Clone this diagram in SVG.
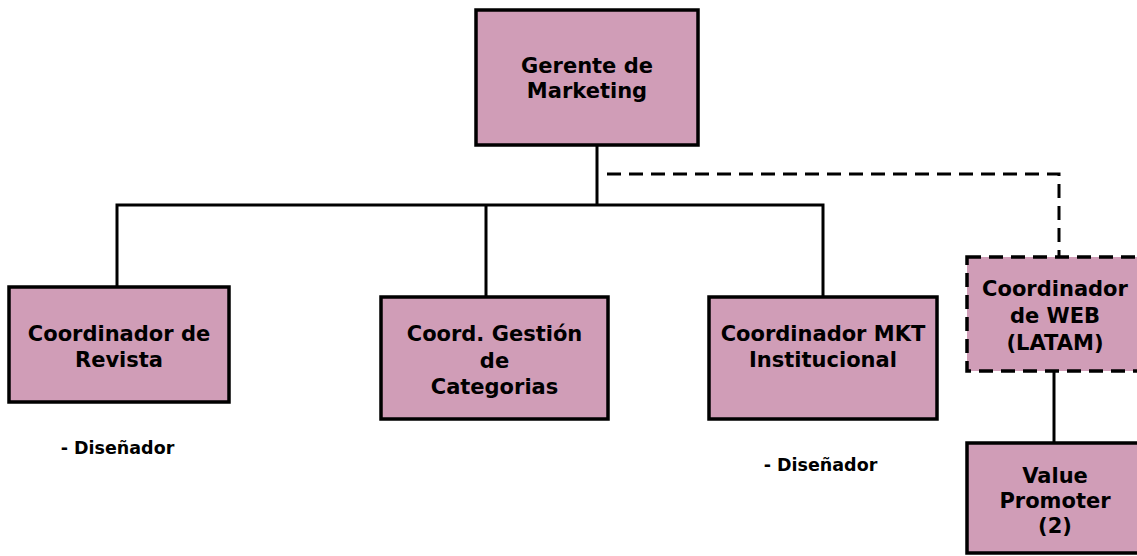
<svg xmlns="http://www.w3.org/2000/svg" width="1137" height="556" viewBox="0 0 1137 556">
  <style>
    .box { fill: #D09DB7; stroke: #000; stroke-width: 3.5; }
    .dash { stroke-dasharray: 14 8; }
    .lbl { font-family: "DejaVu Sans", Verdana, sans-serif; font-weight: bold; font-size: 21px; fill: #000; text-anchor: middle; }
    .note { font-family: "DejaVu Sans", Verdana, sans-serif; font-weight: bold; font-size: 17.5px; fill: #000; text-anchor: middle; }
    .line { fill: none; stroke: #000; stroke-width: 3; }
  </style>
  <rect width="1137" height="556" fill="#fff"/>

  <!-- reporting lines -->
  <g id="connectors">
    <path class="line" d="M597 145 V205 M117 287 V205 H823 V297 M486 205 V297"/>
    <path class="line dash" d="M607 174 H1059 V257"/>
    <path class="line" d="M1054 371 V443"/>
  </g>

  <g id="gerente">
    <rect class="box" x="476" y="10" width="222" height="135"/>
    <text class="lbl" x="587" y="72.5">Gerente de</text>
    <text class="lbl" x="587" y="97.5">Marketing</text>
  </g>

  <g id="revista">
    <rect class="box" x="9" y="287" width="220" height="115"/>
    <text class="lbl" x="119" y="340.5">Coordinador de</text>
    <text class="lbl" x="119" y="366.5">Revista</text>
    <text class="note" x="117.5" y="454">- Diseñador</text>
  </g>

  <g id="categorias">
    <rect class="box" x="381" y="297" width="227" height="122"/>
    <text class="lbl" x="494.5" y="340.5">Coord. Gestión</text>
    <text class="lbl" x="494.5" y="368">de</text>
    <text class="lbl" x="494.5" y="393.5">Categorias</text>
  </g>

  <g id="institucional">
    <rect class="box" x="709" y="297" width="228" height="122"/>
    <text class="lbl" x="823" y="340.5">Coordinador MKT</text>
    <text class="lbl" x="823" y="366.5">Institucional</text>
    <text class="note" x="820.5" y="471">- Diseñador</text>
  </g>

  <g id="web">
    <rect class="box dash" x="967" y="257" width="176" height="114"/>
    <text class="lbl" x="1055" y="295.5">Coordinador</text>
    <text class="lbl" x="1055" y="322.5">de WEB</text>
    <text class="lbl" x="1055" y="349.5">(LATAM)</text>
  </g>

  <g id="value-promoter">
    <rect class="box" x="967" y="443" width="176" height="110"/>
    <text class="lbl" x="1055" y="482.5">Value</text>
    <text class="lbl" x="1055" y="507.5">Promoter</text>
    <text class="lbl" x="1055" y="532.5">(2)</text>
  </g>
</svg>
